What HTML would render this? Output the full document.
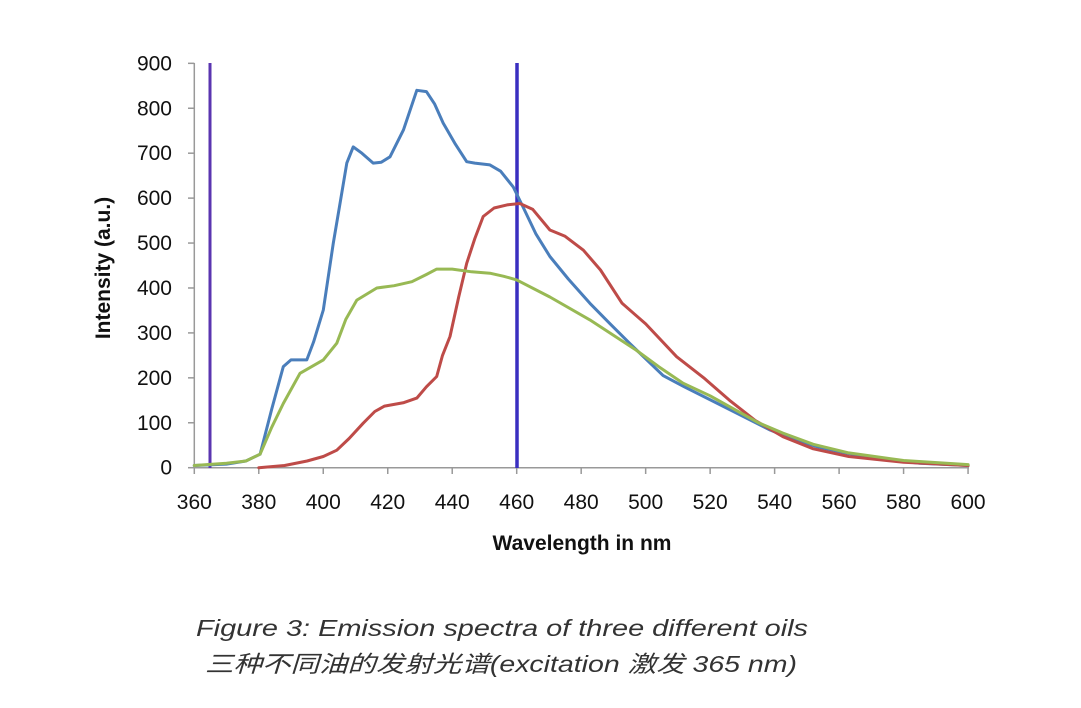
<!DOCTYPE html>
<html><head><meta charset="utf-8"><style>
html,body{margin:0;padding:0;background:#fff;width:1081px;height:708px;overflow:hidden}
svg{display:block}
.t{font-family:"Liberation Sans",Arial,sans-serif;font-size:21px;fill:#111}
.cap{font-family:"Liberation Sans","Noto Sans CJK SC",sans-serif;font-style:italic;font-size:23px;fill:#333}
</style></head><body>
<svg id="s" width="1081" height="708" xmlns="http://www.w3.org/2000/svg">
<g id="axes" stroke="#999" stroke-width="1.5" fill="none"></g>
<line x1="210" y1="63" x2="210" y2="468" stroke="#5a35b0" stroke-width="3"/>
<line x1="517" y1="63" x2="517" y2="468" stroke="#3a2fc0" stroke-width="3.5"/>
<g id="series" fill="none" stroke-width="3" stroke-linejoin="round" stroke-linecap="round"></g>
<g id="labels" class="t"></g>
<text class="t" font-weight="bold" font-size="21" transform="translate(110,268) rotate(-90)" text-anchor="middle">Intensity (a.u.)</text>
<text class="t" font-weight="bold" font-size="21" x="582" y="550" text-anchor="middle">Wavelength in nm</text>
<text class="cap" x="196" y="636" textLength="612" lengthAdjust="spacingAndGlyphs">Figure 3: Emission spectra of three different oils</text>
<text class="cap" x="205" y="672" textLength="592" lengthAdjust="spacingAndGlyphs">三种不同油的发射光谱(excitation 激发 365 nm)</text>
</svg>
<script>
var X=function(n){return 194.3+(n-360)*3.224},Y=function(v){return 467.7-v*0.4493};
var ns="http://www.w3.org/2000/svg";
function el(t,a,p){var e=document.createElementNS(ns,t);for(var k in a)e.setAttribute(k,a[k]);p.appendChild(e);return e}
var ax=document.getElementById('axes'),lb=document.getElementById('labels');
el('line',{x1:194.3,y1:63,x2:194.3,y2:468},ax);
el('line',{x1:194.3,y1:467.7,x2:969,y2:467.7},ax);
for(var v=0;v<=900;v+=100){el('line',{x1:188,y1:Y(v),x2:194.3,y2:Y(v)},ax);var t=el('text',{x:172,y:Y(v)+7,'text-anchor':'end'},lb);t.textContent=v;}
for(var n=360;n<=600;n+=20){el('line',{x1:X(n),y1:467.7,x2:X(n),y2:474},ax);var t=el('text',{x:X(n),y:509,'text-anchor':'middle'},lb);t.textContent=n;}
var S={
'#4a7ebb':[[360,5],[370,8],[376,15],[380.4,30],[384,130],[387.6,225],[390,240],[394.9,240],[397,280],[400,351],[403.1,500],[405,580],[407.3,678],[409.3,714],[412,700],[415.5,678],[418,680],[420.7,692],[424.9,752],[429,840],[432,837],[434.5,810],[437.2,767],[441,720],[444.5,681],[447,678],[451.7,674],[455,660],[458.9,625],[462,580],[466,520],[470.3,470],[476,420],[482.7,366],[489,320],[495,277],[505.4,205],[512,180],[522,144],[530,115],[538.6,84],[545,65],[553,47],[562,33],[570,22],[585,10],[600,5]],
'#be4b48':[[380,0],[388,5],[395,15],[400,25],[404.2,39],[408,65],[412.4,99],[416,125],[419,137],[425,145],[429,155],[432,180],[435.2,203],[437,250],[439.3,292],[442,380],[444.5,455],[447,510],[449.6,559],[453,578],[457,585],[461,588],[465,575],[470.3,529],[475,515],[480.7,484],[486,440],[492.7,366],[500,320],[509.6,247],[518,200],[526,150],[534,105],[542.6,69],[552,42],[563,25],[580,12],[600,5]],
'#98b954':[[360,5],[370,10],[376,15],[380.4,30],[384,90],[387.6,143],[392.8,210],[400,240],[404.2,277],[407,330],[410.4,373],[416.6,400],[422,405],[427.5,414],[432,430],[435.2,442],[440,442],[446,436],[451.7,433],[456,426],[460,418],[470.3,380],[482.7,329],[497,262],[504,225],[511.6,188],[520,160],[528,128],[535,100],[542.6,77],[552,52],[563,33],[580,16],[600,7]]};
var g=document.getElementById('series');
for(var c in S){var d=S[c].map(function(p,i){return (i?'L':'M')+X(p[0]).toFixed(1)+' '+Y(p[1]).toFixed(1)}).join('');el('path',{d:d,stroke:c},g);}
</script>
</body></html>
